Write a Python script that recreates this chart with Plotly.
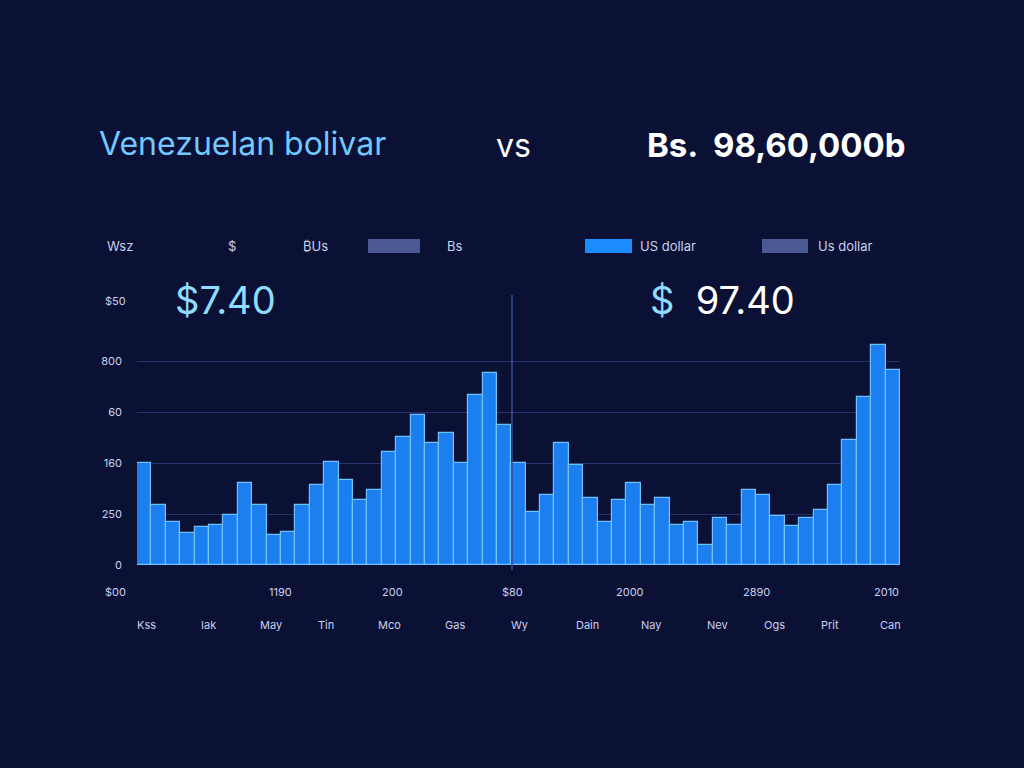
import plotly.graph_objects as go

# data (grid units)
bar_tops = [463,505,522,533,527,525,515,483,505,535,532,505,485,462,480,500,490,452,437,415,443,433,463,395,373,425,
            463,512,495,443,465,498,522,500,483,505,498,525,522,545,518,525,490,495,516,526,518,510,485,440,397,345,370]
values = [round((565 - t) / 51, 2) for t in bar_tops]
xs = list(range(len(values)))
ytick_vals = [0, 1, 2, 3, 4]
ytick_text = ["0", "250", "160", "60", "800"]
xrow1 = [("$00", 115), ("1190", 280), ("200", 392), ("$80", 512), ("2000", 630), ("2890", 756), ("2010", 886)]
xrow2 = [("Kss",146),("Iak",208),("May",271),("Tin",326),("Mco",389),("Gas",455),("Wy",519),("Dain",587),
         ("Nay",651),("Nev",717),("Ogs",774),("Prit",830),("Can",890)]

L, R, T, B = 137, 900, 295, 565
def px(x): return (x - L) / (R - L)
def py(y): return (B - y) / (B - T)

fig = go.Figure(go.Bar(x=xs, y=values, marker=dict(color="#1b7ff0", line=dict(color="#6fc0ff", width=1.2)),
                       width=1.0))
fig.update_layout(
    width=1024, height=768, paper_bgcolor="#0b1035", plot_bgcolor="#0b1035",
    margin=dict(l=L, r=1024 - R, t=T, b=768 - B), bargap=0, showlegend=False,
    font=dict(family="Inter", color="#c8d0ee"),
    xaxis=dict(range=[-0.5, len(values) - 0.5], showticklabels=False, showgrid=False, zeroline=False),
    yaxis=dict(range=[0, (B - T) / 51], tickvals=ytick_vals, ticktext=ytick_text, showgrid=True,
               gridcolor="#27306a", gridwidth=1, zeroline=False, tickfont=dict(size=11, color="#c8d0ee"),
               ticklabelstandoff=14),
)
ann = []
def a(t, x, y, size, color, xanchor="center", **kw):
    ann.append(dict(text=t, x=px(x), y=py(y), xref="paper", yref="paper", showarrow=False,
                    font=dict(size=size, color=color, family="Inter"), xanchor=xanchor, yanchor="middle", **kw))
a("Venezuelan bolivar", 97, 143, 32, "#72c8ff", "left")
a("vs", 513, 145, 32, "#ffffff")
a("<b>Bs.  98,60,000b</b>", 645, 145, 33, "#ffffff", "left")
for t, x in [("Wsz",120),("$",232),("₿Us",315),("Bs",455),("US dollar",668),("Us dollar",845)]:
    a(t, x, 246, 13, "#c8d0ee")
a("$50", 115, 301, 11, "#c8d0ee")
a("$7.40", 225, 300, 38, "#8fdcff")
a("<span style='color:#8fdcff'>$</span>  97.40", 722, 300, 38, "#ffffff")
for t, x in xrow1: a(t, x, 592, 11, "#c8d0ee")
for t, x in xrow2: a(t, x, 625, 11, "#c8d0ee")
fig.update_layout(annotations=ann)
shapes = []
for x0, x1, c in [(368, 420, "#4a5894"), (585, 632, "#1a8cff"), (762, 808, "#4a5894")]:
    shapes.append(dict(type="rect", x0=px(x0), x1=px(x1), y0=py(253), y1=py(239), xref="paper", yref="paper",
                       fillcolor=c, line=dict(width=0), layer="above"))
shapes.append(dict(type="line", x0=px(512), x1=px(512), y0=py(295), y1=py(570), xref="paper", yref="paper",
                   line=dict(color="#3a4a9a", width=1.5)))
fig.update_layout(shapes=shapes)
fig.write_html("out.html", config={"displayModeBar": False})
with open("out.html") as f:
    html = f.read()
html = html.replace("<head>", "<head><style>html,body{margin:0;padding:0;background:#0b1035;}</style>", 1)
with open("out.html", "w") as f:
    f.write(html)
